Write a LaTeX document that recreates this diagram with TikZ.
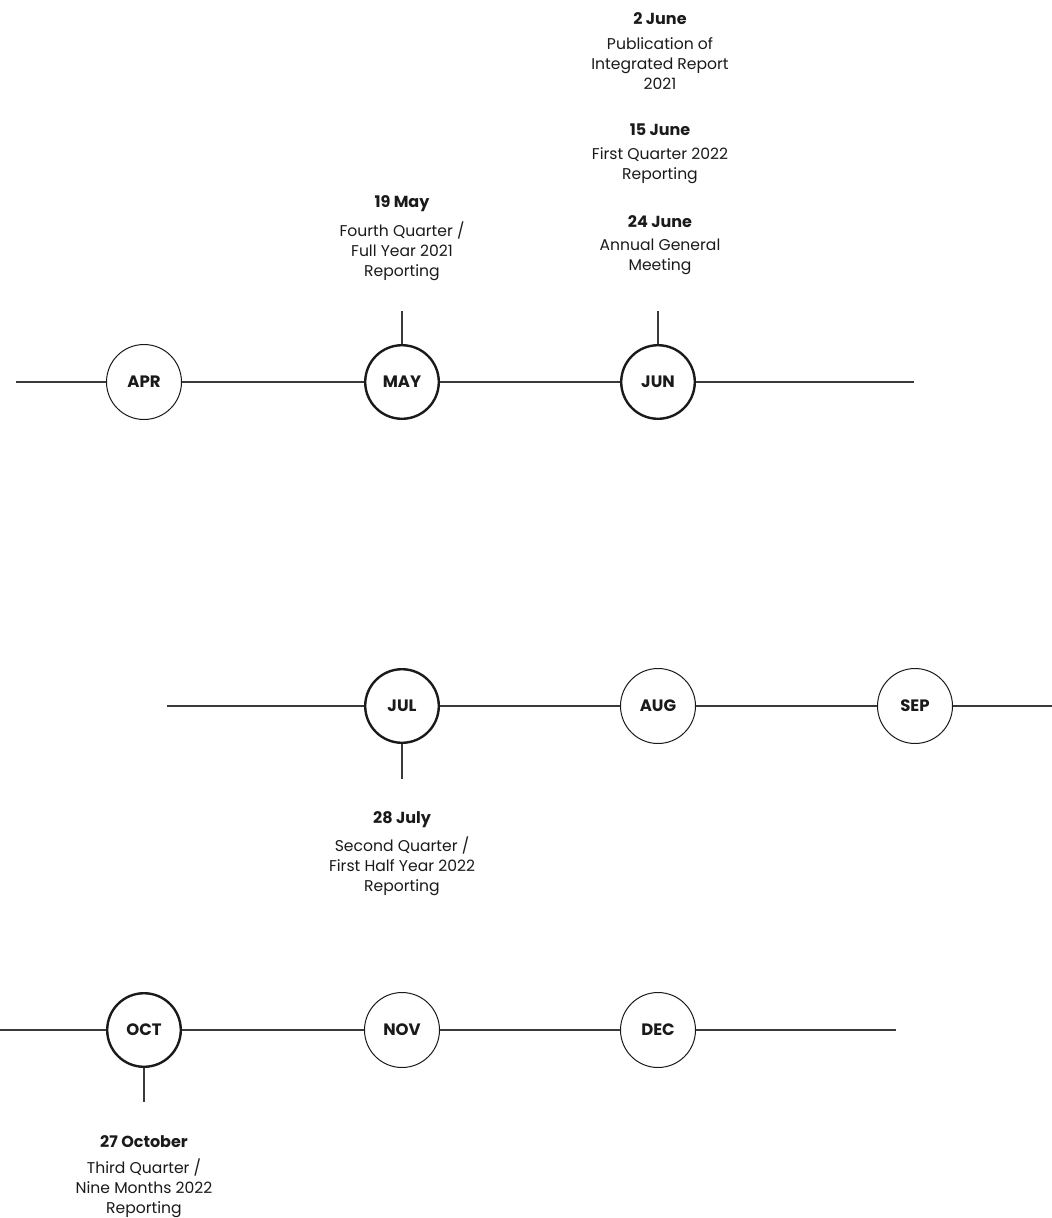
\documentclass[tikz,border=0pt]{standalone}
\usepackage{fontspec}
\setmainfont{Poppins}
\definecolor{ink}{HTML}{1A1A1A}
\definecolor{rule}{HTML}{3A3A3A}
\tikzset{
  month/.style={circle, draw=ink, line width=1pt, minimum size=75pt, inner sep=0pt, text=ink, font=\fontsize{16.5}{16.5}\selectfont\bfseries},
  keymonth/.style={month, line width=2.4pt, minimum size=73.6pt},
  conn/.style={draw=rule, line width=1.1pt},
  datelbl/.style={text=ink, font=\fontsize{16}{20}\selectfont\bfseries, inner sep=0pt, anchor=center},
  desc/.style={text=ink, align=center, font=\fontsize{15.6}{20}\selectfont, inner sep=0pt, anchor=north},
}
\begin{document}
\begin{tikzpicture}[x=1pt,y=-1pt]
\useasboundingbox (0,0) rectangle (1052,1218);
% row 1
\coordinate (s1) at (16,382);
\coordinate (e1) at (914,382);
\node[month] (apr) at (144,382) {APR};
\node[keymonth] (may) at (402,382) {MAY};
\node[keymonth] (jun) at (658,382) {JUN};
\draw[conn] (s1) -- (apr) -- (may) -- (jun) -- (e1);
\coordinate (tmay) at (402,311);
\coordinate (tjun) at (658,311);
\draw[conn] (may) -- (tmay);
\draw[conn] (jun) -- (tjun);
% row 2
\coordinate (s2) at (167,706);
\coordinate (e2) at (1052,706);
\node[keymonth] (jul) at (402,706) {JUL};
\node[month] (aug) at (658,706) {AUG};
\node[month] (sep) at (915,706) {SEP};
\draw[conn] (s2) -- (jul) -- (aug) -- (sep) -- (e2);
\coordinate (tjul) at (402,779);
\draw[conn] (jul) -- (tjul);
% row 3
\coordinate (s3) at (0,1030);
\coordinate (e3) at (896,1030);
\node[keymonth] (oct) at (144,1030) {OCT};
\node[month] (nov) at (402,1030) {NOV};
\node[month] (dec) at (658,1030) {DEC};
\draw[conn] (s3) -- (oct) -- (nov) -- (dec) -- (e3);
\coordinate (toct) at (144,1102);
\draw[conn] (oct) -- (toct);
% texts June
\node[datelbl] (d2jun) at (660,19) {2 June};
\node[desc] (t2jun) at (660,37) {Publication of\\Integrated Report\\2021};
\node[datelbl] (d15jun) at (660,130) {15 June};
\node[desc] (t15jun) at (660,147) {First Quarter 2022\\Reporting};
\node[datelbl] (d24jun) at (660,222) {24 June};
\node[desc] (t24jun) at (660,239) {Annual General\\Meeting};
% May
\node[datelbl] (d19may) at (402,204) {19 May};
\node[desc] (t19may) at (402,222) {Fourth Quarter /\\Full Year 2021\\Reporting};
% July
\node[datelbl] (d28jul) at (402,820) {28 July};
\node[desc] (t28jul) at (402,837) {Second Quarter /\\First Half Year 2022\\Reporting};
% October
\node[datelbl] (d27oct) at (144,1142) {27 October};
\node[desc] (t27oct) at (144,1159) {Third Quarter /\\Nine Months 2022\\Reporting};
\end{tikzpicture}
\end{document}
